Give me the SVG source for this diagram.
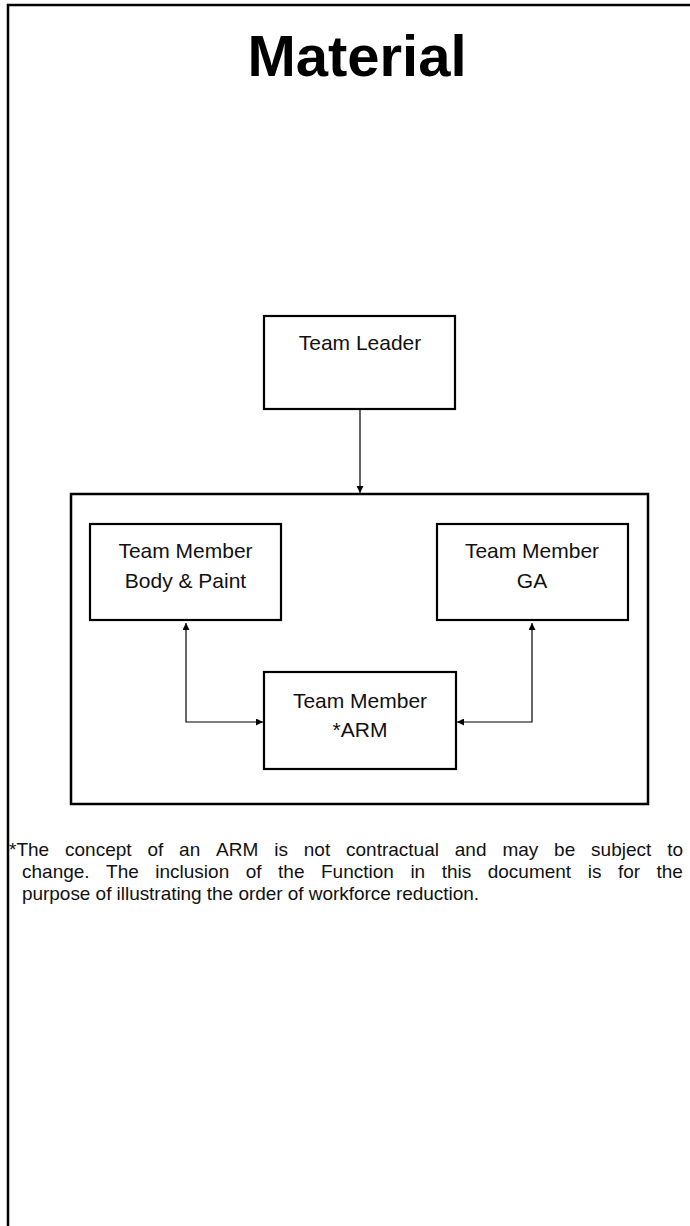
<svg xmlns="http://www.w3.org/2000/svg" width="690" height="1226" viewBox="0 0 690 1226">
  <defs>
    <style>
      .box { fill: #fff; stroke: #000; stroke-width: 2.2; }
      .frame { fill: none; stroke: #000; stroke-width: 2.5; }
      .wire { fill: none; stroke: #000; stroke-width: 1.2; }
      .lbl { font-family: "Liberation Sans", Arial, sans-serif; font-size: 21px; fill: #111; text-anchor: middle; }
      .title { font-family: "Liberation Sans", Arial, sans-serif; font-size: 58px; font-weight: bold; fill: #000; text-anchor: middle; }
      .note { font-family: "Liberation Sans", Arial, sans-serif; font-size: 19px; fill: #111; }
    </style>
    <marker id="arrow" viewBox="0 0 10 10" refX="10" refY="5" markerWidth="7" markerHeight="7" markerUnits="userSpaceOnUse" orient="auto-start-reverse">
      <path d="M0,0 L10,5 L0,10 Z" fill="#000"/>
    </marker>
  </defs>

  <rect width="690" height="1226" fill="#fff"/>

  <!-- page border (top and left edges) -->
  <path class="frame" d="M8,1226 V5 H690"/>

  <text class="title" x="357" y="76">Material</text>

  <!-- team enclosure -->
  <rect id="team-group" class="frame" x="71" y="494" width="577" height="310"/>

  <g id="team-leader">
    <rect class="box" x="264" y="316" width="191" height="93"/>
    <text class="lbl" x="360" y="350">Team Leader</text>
  </g>

  <g id="member-body-paint">
    <rect class="box" x="90" y="524" width="191" height="96"/>
    <text class="lbl" x="185.5" y="558">Team Member</text>
    <text class="lbl" x="185.5" y="588">Body &amp; Paint</text>
  </g>

  <g id="member-ga">
    <rect class="box" x="437" y="524" width="191" height="96"/>
    <text class="lbl" x="532" y="558">Team Member</text>
    <text class="lbl" x="532" y="588">GA</text>
  </g>

  <g id="member-arm">
    <rect class="box" x="264" y="672" width="192" height="97"/>
    <text class="lbl" x="360" y="708">Team Member</text>
    <text class="lbl" x="360" y="737">*ARM</text>
  </g>

  <g id="connectors">
    <path class="wire" d="M360,410 V493" marker-end="url(#arrow)"/>
    <path class="wire" d="M186,623 V722 H263" marker-start="url(#arrow)" marker-end="url(#arrow)"/>
    <path class="wire" d="M532,623 V722 H457" marker-start="url(#arrow)" marker-end="url(#arrow)"/>
  </g>

  <!-- justified footnote: words placed individually -->
  <g id="footnote">
    <text class="note" y="856"><tspan x="9">*The</tspan><tspan x="65">concept</tspan><tspan x="147.4">of</tspan><tspan x="179.1">an</tspan><tspan x="216.1">ARM</tspan><tspan x="274.2">is</tspan><tspan x="303.8">not</tspan><tspan x="346">contractual</tspan><tspan x="454.8">and</tspan><tspan x="502.4">may</tspan><tspan x="554.1">be</tspan><tspan x="591.1">subject</tspan><tspan x="667.2">to</tspan></text>
    <text class="note" y="878"><tspan x="22">change.</tspan><tspan x="106.1">The</tspan><tspan x="155.3">inclusion</tspan><tspan x="245.8">of</tspan><tspan x="278.1">the</tspan><tspan x="321">Function</tspan><tspan x="410.4">in</tspan><tspan x="441.7">this</tspan><tspan x="487.7">document</tspan><tspan x="587.7">is</tspan><tspan x="617.9">for</tspan><tspan x="656.5">the</tspan></text>
    <text class="note" x="22" y="900" textLength="457" lengthAdjust="spacing">purpose of illustrating the order of workforce reduction.</text>
  </g>
</svg>
